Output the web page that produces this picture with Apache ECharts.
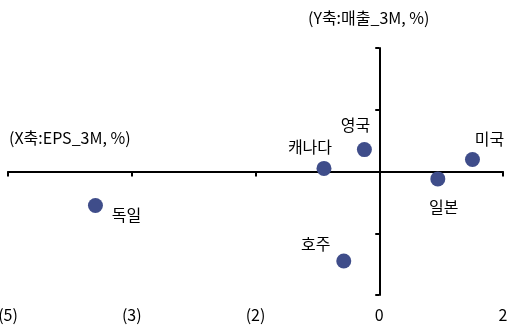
<!DOCTYPE html>
<html>
<head>
<meta charset="utf-8">
<script src="https://cdn.jsdelivr.net/npm/echarts@6/dist/echarts.min.js"></script>
<style>
  html, body { margin: 0; padding: 0; background: #fff; }
  #chart { width: 527px; height: 328px; }
</style>
</head>
<body>
<div id="chart"></div>
<script>
// Country EPS (3M, %) vs. sales (3M, %) changes
const countries = ['독일', '캐나다', '영국', '미국', '일본', '호주'];
const epsChange = [-3.44, -0.67, -0.18, 1.13, 0.71, -0.43];
const salesChange = [-1.10, 0.10, 0.71, 0.39, -0.24, -2.90];

// Axis ranges
const xMin = -4.5, xMax = 1.5, xStep = 1.5;
const yMin = -4, yMax = 4, yStep = 2;

// Label placement for each country (offset in px from the marker)
const labelOffsets = [[31, 9], [-14, -21], [-9, -25], [17, -21], [6, 28], [-28, -17]];

const FONT = '"Noto Sans CJK KR", "Noto Sans", sans-serif';
const FS = 16;
const fmt = v => {
  const r = Math.round(Math.abs(v));
  return v < -1e-9 ? '(' + r + ')' : String(r);
};

const chart = echarts.init(document.getElementById('chart'));
chart.setOption({
  animation: false,
  textStyle: { fontFamily: FONT },
  grid: { left: 8, right: 24, top: 48, bottom: 33, containLabel: false, outerBoundsMode: 'none' },
  xAxis: [
    {
      type: 'value', min: xMin, max: xMax, interval: xStep,
      axisLine: { onZero: true, onZeroAxisIndex: 0, lineStyle: { color: '#000', width: 2 } },
      axisTick: { show: true, length: 5, lineStyle: { color: '#000', width: 2 } },
      axisLabel: { show: false },
      splitLine: { show: false }
    },
    {
      type: 'value', min: xMin, max: xMax, interval: xStep, position: 'bottom',
      axisLine: { show: false, onZero: false },
      axisTick: { show: false },
      axisLabel: {
        show: true, margin: 12, color: '#000', fontSize: FS, fontFamily: FONT,
        showMinLabel: true, showMaxLabel: true, hideOverlap: false, formatter: fmt
      },
      splitLine: { show: false }
    }
  ],
  yAxis: {
    type: 'value', min: yMin, max: yMax, interval: yStep,
    axisLine: { onZero: true, onZeroAxisIndex: 0, lineStyle: { color: '#000', width: 2 } },
    axisTick: { show: true, length: 4, lineStyle: { color: '#000', width: 2 } },
    axisLabel: {
      show: true, margin: 18, color: '#000', fontSize: FS, fontFamily: FONT,
      showMinLabel: true, showMaxLabel: true, formatter: fmt
    },
    splitLine: { show: false }
  },
  series: [{
    type: 'scatter',
    xAxisIndex: 0,
    symbolSize: 15,
    itemStyle: { color: '#3f4d8a', opacity: 1 },
    data: countries.map((name, i) => ({
      name: name,
      value: [epsChange[i], salesChange[i]],
      label: {
        show: true, position: 'inside', formatter: '{b}',
        offset: labelOffsets[i], color: '#000', fontSize: FS, fontFamily: FONT
      }
    }))
  }],
  graphic: [
    {
      type: 'text', left: 308, top: 10,
      style: { text: '(Y축:매출_3M, %)', fill: '#000', font: FS + 'px ' + FONT }
    },
    {
      type: 'text', left: 9, top: 130,
      style: { text: '(X축:EPS_3M, %)', fill: '#000', font: FS + 'px ' + FONT }
    }
  ]
});
</script>
</body>
</html>
